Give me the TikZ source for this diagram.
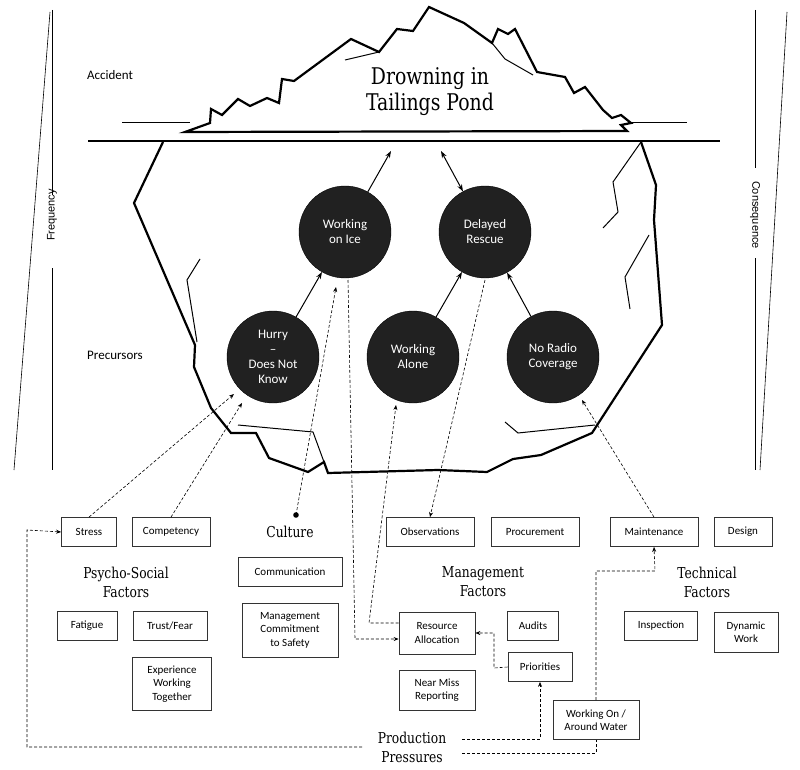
\documentclass[tikz,border=0pt]{standalone}
\usepackage{fontspec}
\setmainfont{Carlito}
\newfontfamily\slab[FakeStretch=0.82]{DejaVu Serif}
\newfontfamily\wide{Liberation Sans}
\usetikzlibrary{arrows.meta}
\begin{document}
\begin{tikzpicture}[x=1pt,y=-1pt,
  ice/.style={line width=2.2pt,line join=miter},
  crack/.style={line width=1pt},
  circ/.style={circle,fill=black!87,draw=black,minimum size=92pt,inner sep=0pt,text=white,align=center,font=\fontsize{13}{15}\selectfont},
  box/.style={draw=black!80,line width=0.8pt,inner sep=0pt,align=center,font=\fontsize{11}{13.5}\selectfont},
  arr/.style={-{Stealth[length=7pt,width=5pt]},line width=1pt},
  dsh/.style={densely dashed,line width=0.6pt,-{Stealth[length=5pt,width=4pt]}},
  head/.style={font=\slab\fontsize{15}{19}\selectfont,align=center},
  side/.style={font=\wide\fontsize{11}{13}\selectfont}]
\useasboundingbox (0,0) rectangle (800,770);
% side scales
\draw[line width=0.6pt] (50,12) -- (14,470);
\draw[line width=0.6pt] (52,10) -- (52,195) (52,268) -- (52,470);
\node[side,rotate=90] (freq) at (52,215) {Frequency};
\draw[line width=0.6pt] (787,12) -- (760,470);
\draw[line width=0.6pt] (755,10) -- (755,168) (755,258) -- (755,470);
\node[side,rotate=-90] (cons) at (755,215) {Consequence};
\node[side,font=\fontsize{13}{15}\selectfont] (acc) at (110,75) {Accident};
\node[side,font=\fontsize{13}{15}\selectfont] (prec) at (115,355) {Precursors};
% water lines
\draw[line width=0.8pt] (122,122) -- (190,122) (620,122) -- (687,122);
\draw[line width=2.4pt] (88,141) -- (720,141);
% iceberg tip
\draw[ice,fill=white] (185,132) -- (210,123) -- (211,109) -- (222,115) -- (238,99) -- (250,106) -- (267,98) -- (279,103) -- (282,79) -- (294,81) -- (351,39) -- (379,52) -- (397,29) -- (413,31) -- (429,7) -- (464,23) -- (492,43) -- (498,29) -- (508,34) -- (515,29) -- (537,72) -- (565,77) -- (574,93) -- (585,87) -- (603,110) -- (612,118) -- (621,115) -- (631,123) -- (621,125) -- (627,131) -- cycle;
\draw[crack] (345,60) -- (379,52);
\draw[crack] (492,43) -- (505,59) -- (533,75);
\node[font=\slab\fontsize{23}{26}\selectfont,align=center] (title) at (430,92) {Drowning in\\Tailings Pond};
% underwater
\draw[ice] (163,142) -- (134,203) -- (195,345) -- (194,367) -- (211,408) -- (231,433) -- (256,433) -- (269,458) -- (308,472) -- (324,462) -- (328,473) -- (438,470) -- (487,472) -- (513,459) -- (541,455) -- (592,433) -- (662,325) -- (654,220) -- (656,185) -- (641,142);
\draw[crack] (200,259) -- (187,280) -- (197,342);
\draw[crack] (641,142) -- (613,182) -- (618,212) -- (603,228);
\draw[crack] (649,235) -- (625,277) -- (630,309);
\draw[crack] (238,425) -- (313,432) -- (324,462);
\draw[crack] (505,422) -- (518,433) -- (595,425);
% circles
\node[circ] (ice) at (345,232) {Working\\on Ice};
\node[circ] (resc) at (485,232) {Delayed\\Rescue};
\node[circ] (hurry) at (273,357) {Hurry\\--\\Does Not\\Know};
\node[circ] (alone) at (413,357) {Working\\Alone};
\node[circ] (radio) at (553,357) {No Radio\\Coverage};
\coordinate (tipA) at (391,151);
\coordinate (tipB) at (441,151);
\draw[arr] (ice) -- (tipA);
\draw[arr,{Stealth[length=7pt,width=5pt]}-{Stealth[length=7pt,width=5pt]}] (tipB) -- (resc);
\draw[arr] (hurry) -- (ice);
\draw[arr] (alone) -- (resc);
\draw[arr] (radio) -- (resc);
% boxes
\node[box,minimum width=55pt,minimum height=29pt] (stress) at (89,532) {Stress};
\node[box,minimum width=78pt,minimum height=29pt] (comp) at (171,532) {Competency};
\node[head] (cult) at (290,532) {Culture};
\node[box,minimum width=88pt,minimum height=29pt] (obs) at (430,532) {Observations};
\node[box,minimum width=88pt,minimum height=29pt] (proc) at (535,532) {Procurement};
\node[box,minimum width=88pt,minimum height=29pt] (maint) at (654,532) {Maintenance};
\node[box,minimum width=58pt,minimum height=29pt] (design) at (743,532) {Design};
\node[head] (psy) at (126,582) {Psycho-Social\\Factors};
\node[box,minimum width=104pt,minimum height=29pt] (commu) at (290,572) {Communication};
\node[head] (mgmt) at (483,582) {Management\\Factors};
\node[head] (tech) at (707,582) {Technical\\Factors};
\node[box,minimum width=60pt,minimum height=29pt] (fat) at (87,626) {Fatigue};
\node[box,minimum width=74pt,minimum height=29pt] (trust) at (170,626) {Trust/Fear};
\node[box,minimum width=96pt,minimum height=54pt] (mcs) at (290,630) {Management\\Commitment\\to Safety};
\node[box,minimum width=76pt,minimum height=42pt] (ra) at (437,633) {Resource\\Allocation};
\node[box,minimum width=51pt,minimum height=29pt] (aud) at (533,626) {Audits};
\node[box,minimum width=73pt,minimum height=29pt] (insp) at (661,626) {Inspection};
\node[box,minimum width=64pt,minimum height=40pt] (dyn) at (746,632) {Dynamic\\Work};
\node[box,minimum width=79pt,minimum height=53pt] (exp) at (172,684) {Experience\\Working\\Together};
\node[box,minimum width=64pt,minimum height=29pt] (prio) at (540,667) {Priorities};
\node[box,minimum width=76pt,minimum height=40pt] (nm) at (437,690) {Near Miss\\Reporting};
\node[box,minimum width=86pt,minimum height=39pt] (water) at (596,720) {Working On /\\Around Water};
\node[head] (pp) at (412,747) {Production\\Pressures};
% dashed connectors
\coordinate (dot) at (296,515);
\fill (dot) circle (2.8pt);
\draw[dsh] (stress.north) -- (234,394);
\draw[dsh] (comp.north) -- (242,403);
\draw[dsh] (dot) -- (336,287);
\draw[dsh] (348,280) -- (355,639) -- (ra.west |- 0,639);
\draw[dsh] (ra.west |- 0,623) -- (369,623) -- (396,405);
\draw[dsh] (485,280) -- (obs.north);
\draw[dsh] (maint.north) -- (582,400);
\draw[dsh] (prio.west) -- (494,668) -- (494,633) -- (ra.east |- 0,633);
\draw[dsh] (462,739) -- (540,739) -- (prio.south);
\draw[densely dashed,line width=0.6pt] (462,753) -- (596,753) -- (water.south);
\draw[dsh] (water.north) -- (596,571) -- (655,571) -- (maint.south);
\draw[dsh] (362,747) -- (27,747) -- (27,530) -- (stress.west);
\end{tikzpicture}
\end{document}
